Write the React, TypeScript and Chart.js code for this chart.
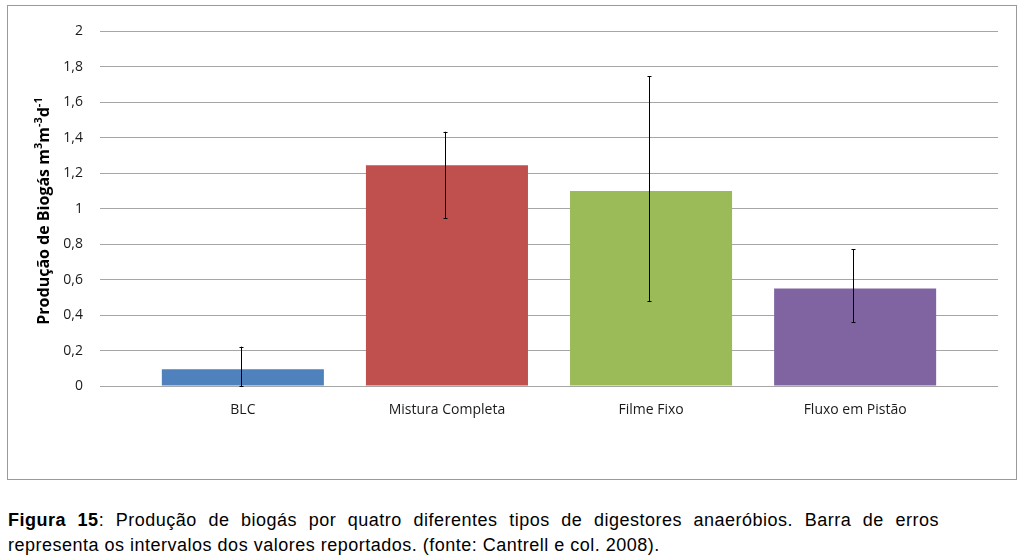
import React, { useEffect, useRef } from 'react';
import { Chart, registerables } from 'chart.js';

Chart.register(...registerables);

const categories = ['BLC', 'Mistura Completa', 'Filme Fixo', 'Fluxo em Pistão'];
const positions = [0, 1, 2, 3];
const values = [0.095, 1.245, 1.1, 0.55];
const errLow = [0, 0.945, 0.48, 0.36];
const errHigh = [0.222, 1.434, 1.747, 0.772];
const barColors = ['#4f81bd', '#c0504d', '#9bbb59', '#8064a2'];
const yTickValues = [0, 0.2, 0.4, 0.6, 0.8, 1, 1.2, 1.4, 1.6, 1.8, 2];
const yTickLabels = ['0', '0,2', '0,4', '0,6', '0,8', '1', '1,2', '1,4', '1,6', '1,8', '2'];
const yTitleParts = [
  { text: 'Produção de Biogás m', sup: false },
  { text: '3', sup: true },
  { text: 'm', sup: false },
  { text: '-3', sup: true },
  { text: 'd', sup: false },
  { text: '-1', sup: true },
];
const captionBold = 'Figura 15';
const captionLine1 = ': Produção de biogás por quatro diferentes tipos de digestores anaeróbios. Barra de erros';
const captionLine2 = 'representa os intervalos dos valores reportados. (fonte: Cantrell e col. 2008).';

const FONT = '"Open Sans", sans-serif';

const errorBarPlugin = {
  id: 'errorBars',
  afterDatasetsDraw(chart: any) {
    const { ctx, scales } = chart;
    const xs = scales.x;
    const ys = scales.y;
    ctx.save();
    ctx.strokeStyle = '#000';
    ctx.lineWidth = 1;
    for (let i = 0; i < positions.length; i++) {
      const x = Math.round(xs.getPixelForValue(positions[i])) - 1.5;
      const y1 = ys.getPixelForValue(errLow[i]);
      const y2 = ys.getPixelForValue(errHigh[i]);
      ctx.beginPath();
      ctx.moveTo(x, y1);
      ctx.lineTo(x, y2);
      ctx.moveTo(x - 2, Math.round(y1) + 0.5);
      ctx.lineTo(x + 2, Math.round(y1) + 0.5);
      ctx.moveTo(x - 2, Math.round(y2) + 0.5);
      ctx.lineTo(x + 2, Math.round(y2) + 0.5);
      ctx.stroke();
    }
    ctx.restore();
  },
};

const yTitlePlugin = {
  id: 'yTitle',
  afterDraw(chart: any) {
    const { ctx } = chart;
    const baseFont = `bold 16px ${FONT}`;
    const supFont = `bold 11px ${FONT}`;
    ctx.save();
    let total = 0;
    const widths = yTitleParts.map((p) => {
      ctx.font = p.sup ? supFont : baseFont;
      const w = ctx.measureText(p.text).width;
      total += w;
      return w;
    });
    ctx.translate(41, 205);
    ctx.rotate(-Math.PI / 2);
    ctx.fillStyle = '#000';
    ctx.textBaseline = 'alphabetic';
    ctx.textAlign = 'left';
    let x = -total / 2;
    yTitleParts.forEach((p, i) => {
      ctx.font = p.sup ? supFont : baseFont;
      ctx.fillText(p.text, x, p.sup ? -7 : 0);
      x += widths[i];
    });
    ctx.restore();
  },
};

function ChartBox() {
  const ref = useRef<HTMLCanvasElement | null>(null);
  useEffect(() => {
    if (!ref.current) return;
    const chart = new Chart(ref.current, {
      type: 'bar',
      data: {
        datasets: [
          {
            data: positions.map((p, i) => ({ x: p, y: values[i] })),
            backgroundColor: barColors,
            borderWidth: 0,
            categoryPercentage: 1,
            barPercentage: 0.794,
          },
        ],
      },
      options: {
        animation: false,
        responsive: false,
        maintainAspectRatio: false,
        layout: { padding: { left: 0, right: 18, top: 18, bottom: 52 } },
        plugins: {
          legend: { display: false },
          tooltip: { enabled: false },
          title: { display: false },
        },
        scales: {
          x: {
            type: 'linear',
            offset: false,
            min: -0.7,
            max: 3.7,
            afterBuildTicks: (scale: any) => {
              scale.ticks = positions.map((v) => ({ value: v }));
            },
            afterFit: (scale: any) => {
              scale.height = 40;
            },
            grid: { display: false, drawTicks: false, offset: false },
            border: { display: false },
            ticks: {
              autoSkip: false,
              maxRotation: 0,
              padding: 16,
              color: '#1a1a1a',
              font: { family: FONT, size: 14 },
              callback: (_v: any, i: number) => categories[i],
            },
          },
          y: {
            min: 0,
            max: 2,
            afterBuildTicks: (scale: any) => {
              scale.ticks = yTickValues.map((v) => ({ value: v }));
            },
            afterFit: (scale: any) => {
              scale.width = 92;
            },
            grid: { color: '#a6a6a6', lineWidth: 1, drawTicks: false },
            border: { display: false },
            ticks: {
              padding: 17,
              color: '#1a1a1a',
              font: { family: FONT, size: 14 },
              callback: (_v: any, i: number) => yTickLabels[i],
            },
          },
        },
      },
      plugins: [errorBarPlugin, yTitlePlugin],
    } as any);
    return () => chart.destroy();
  }, []);
  return <canvas ref={ref} width={1008} height={472} style={{ position: 'absolute', left: 0, top: 0, width: 1008, height: 472 }} />;
}

export default function App() {
  return (
    <div style={{ position: 'absolute', left: 0, top: 0, width: 1024, height: 560, background: '#fff' }}>
      <div
        style={{
          position: 'absolute',
          left: 7,
          top: 5,
          width: 1010,
          height: 475,
          boxSizing: 'border-box',
          border: '1px solid #9a9a9a',
          background: '#fff',
        }}
      >
        <ChartBox />
      </div>
      <div
        style={{
          position: 'absolute',
          left: 8,
          top: 508,
          width: 931,
          fontFamily: '"Liberation Sans", Arial, sans-serif',
          fontSize: 18,
          letterSpacing: '0.5px',
          lineHeight: '25px',
          color: '#000',
        }}
      >
        <div style={{ textAlign: 'justify', textAlignLast: 'justify', whiteSpace: 'nowrap' as any }}>
          <b>{captionBold}</b>
          {captionLine1}
        </div>
        <div style={{ whiteSpace: 'nowrap' }}>{captionLine2}</div>
      </div>
    </div>
  );
}
